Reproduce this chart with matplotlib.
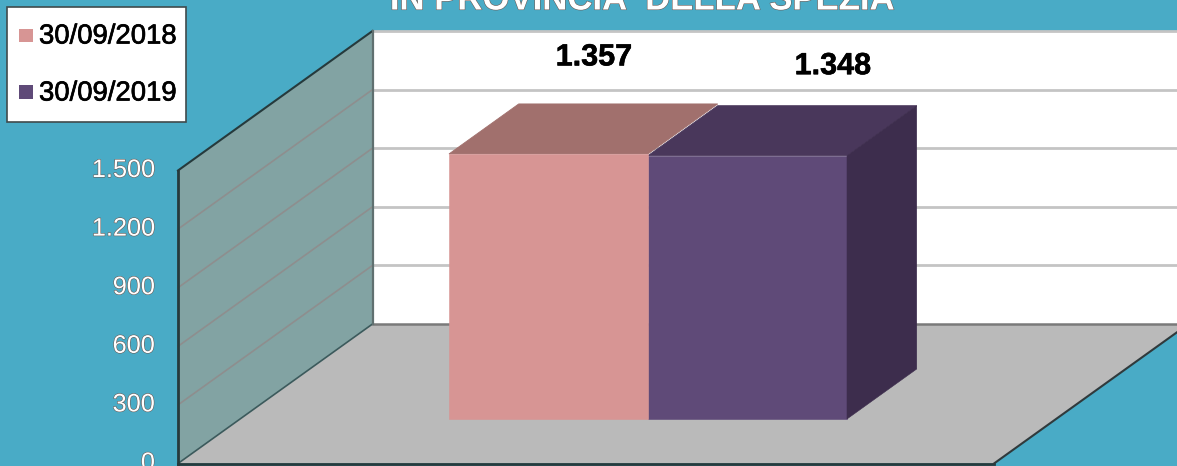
import matplotlib
matplotlib.use("Agg")
import matplotlib.pyplot as plt
from matplotlib.patches import Polygon, Rectangle
import matplotlib.patheffects as pe

W, H = 1177, 466
series = ["30/09/2018", "30/09/2019"]
values = [1357, 1348]
value_labels = ["1.357", "1.348"]
tick_values = [0, 300, 600, 900, 1200, 1500]
tick_labels = ["0", "300", "600", "900", "1.200", "1.500"]
grid_values = [300, 600, 900, 1200, 1500]
title = "IN PROVINCIA  DELLA SPEZIA"

BG = "#49ABC6"
WALL = "#82A3A3"
FLOOR = "#BABABA"
front_cols = ["#D79594", "#5F4A78"]
top_cols = ["#A1706D", "#49375B"]
side_col = "#3D2D4D"

PX = 293 / 1500          # pixels per value unit
Y0 = 463.5               # pixel row of value 0 on front plane
DX, DY = 194.5, 139.5    # wall depth in pixels
BAR_X = 449
BAR_W = 199
BAR_LIFT = 44.5          # front-face base above the front plane, pixels
BAR_D = 50 / DY          # bar depth as a fraction of wall depth
LABEL_DX = [145, 185]    # label centre from the bar's left edge, pixels
LABEL_DY = [46.5, 39.5]  # label centre above the bar's back top edge, pixels

plt.rcParams["font.family"] = ["Liberation Sans", "DejaVu Sans"]
fig = plt.figure(figsize=(W / 100, H / 100), dpi=100, facecolor=BG)
ax = fig.add_axes([0, 0, 1, 1])
ax.set_xlim(0, W)
ax.set_ylim(-(H - Y0) / PX, Y0 / PX)
ax.axis("off")

X0 = 178
X1 = 994
dv = DY / PX


def P(x, v, z=0.0):
    return (x + z * DX, v + z * dv)


TOP = max(tick_values)
# back wall
ax.add_patch(Polygon([P(X0, 0, 1), P(W + 10 - DX, 0, 1), P(W + 10 - DX, TOP, 1), P(X0, TOP, 1)],
                     closed=True, fc="white", ec="none", zorder=1))
# side wall
ax.add_patch(Polygon([P(X0, 0), P(X0, 0, 1), P(X0, TOP, 1), P(X0, TOP)],
                     closed=True, fc=WALL, ec="none", zorder=2))
# floor
ax.add_patch(Polygon([P(X0, 0), P(X1, 0), P(X1, 0, 1), P(X0, 0, 1)],
                     closed=True, fc=FLOOR, ec="none", zorder=2))
# grid
for g in grid_values:
    ax.plot([P(X0, g, 1)[0], W], [P(X0, g, 1)[1]] * 2, color="#C4C4C4", lw=2, zorder=3,
            solid_capstyle="butt")
    if g < TOP:
        ax.plot(*zip(P(X0, g), P(X0, g, 1)), color="#8E8E8E", lw=1.2, zorder=3)
ax.plot([P(X0, 0, 1)[0], W], [P(X0, 0, 1)[1]] * 2, color="#7A7A7A", lw=1.8, zorder=3)
# wall outlines
dark = "#263A3C"
ax.plot(*zip(P(X0, TOP), P(X0, TOP, 1)), color=dark, lw=1.5, zorder=4)
ax.plot(*zip(P(X0, 0), P(X0, 0, 1)), color="#3C5A5C", lw=1.2, zorder=4)
ax.plot(*zip(P(X0, TOP, 1), P(X0, 0, 1)), color="#607070", lw=1.6, zorder=4)
ax.plot(*zip(P(X0, 0), P(X0, TOP)), color=dark, lw=2, zorder=4)
ax.plot(*zip(P(X0, 0), P(X1, 0)), color=dark, lw=2, zorder=4)
ax.plot(*zip(P(X1, 0), P(X1, 0, 1)), color="#303A3C", lw=1.5, zorder=4)

# bars: right-most first so the left bar's top overlaps its neighbour
base = BAR_LIFT / PX
for i in reversed(range(len(values))):
    v, fc, tc = values[i], front_cols[i], top_cols[i]
    x = BAR_X + i * BAR_W
    f = lambda xx, vv, zz: (xx + zz * DX, base + vv + zz * dv)
    ax.add_patch(Polygon([f(x, v, 0), f(x + BAR_W, v, 0), f(x + BAR_W, v, BAR_D), f(x, v, BAR_D)],
                         closed=True, fc=tc, ec=tc, lw=0.6, zorder=6 + (1 - i)))
    ax.add_patch(Polygon([f(x, 0, 0), f(x + BAR_W, 0, 0), f(x + BAR_W, v, 0), f(x, v, 0)],
                         closed=True, fc=fc, ec=fc, lw=0.4, zorder=8))
    if i == len(values) - 1:
        ax.add_patch(Polygon([f(x + BAR_W, 0, 0), f(x + BAR_W, 0, BAR_D),
                              f(x + BAR_W, v, BAR_D), f(x + BAR_W, v, 0)],
                             closed=True, fc=side_col, ec=side_col, lw=0.4, zorder=8))
    ax.text(x + LABEL_DX[i], f(x, v, BAR_D)[1] + LABEL_DY[i] / PX, value_labels[i],
            ha="center", va="center", fontsize=22, fontweight="bold", color="black", zorder=9,
            path_effects=[pe.withStroke(linewidth=0.4, foreground="black")])

# tick labels
outline = [pe.withStroke(linewidth=0.8, foreground="#6B5A55")]
for v, s in zip(tick_values, tick_labels):
    ax.text(155, v + 0.5 / PX, s, ha="right", va="center",
            fontsize=18.2, color="white", zorder=9, path_effects=outline)

# title
ax.text(643, (Y0 - 0) / PX, title, ha="center", va="center", fontsize=25, fontweight="bold",
        color="white", zorder=9, path_effects=outline)

# legend
ax.add_patch(Rectangle((7, (Y0 - 122) / PX), 179, 115 / PX, fc="white", ec="#404A4C", lw=1.2, zorder=10))
for yp, name, c in zip([35, 92], series, front_cols):
    ax.add_patch(Rectangle((19, (Y0 - yp - 6.5) / PX), 14, 13 / PX, fc=c, ec="none", zorder=11))
    ax.text(39, (Y0 - yp - 1.5) / PX, name, ha="left", va="center", fontsize=19.8, color="black",
            zorder=11, path_effects=[pe.withStroke(linewidth=0.5, foreground="black")])

fig.savefig("out.png", dpi=100, facecolor=BG)
